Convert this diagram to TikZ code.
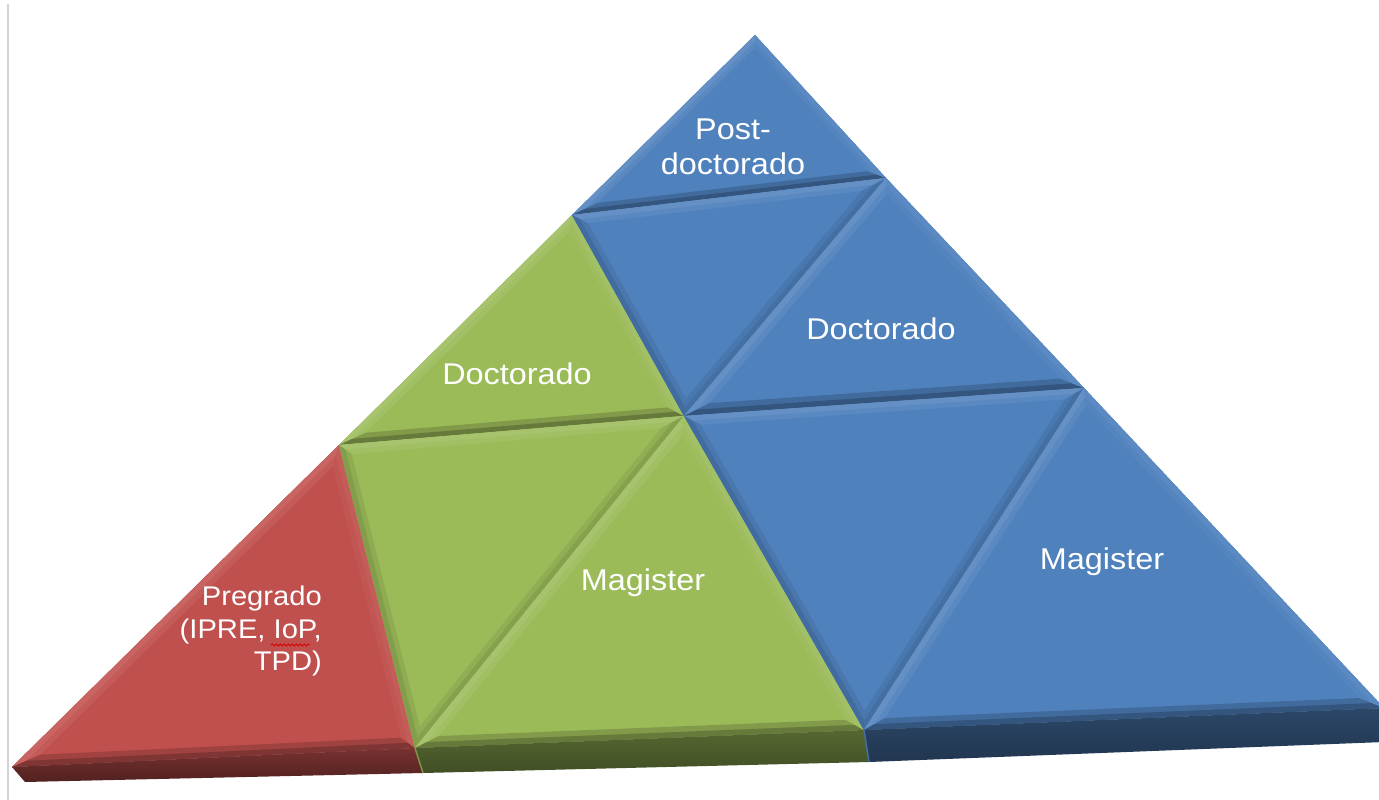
\documentclass[tikz,border=0pt]{standalone}
\usepackage{fontspec}
\setmainfont{Liberation Sans}
\newfontfamily\labfont[FakeStretch=1.08]{Liberation Sans}
\usetikzlibrary{calc,decorations.pathmorphing}
\definecolor{cred}{HTML}{C0504D}
\definecolor{cgreen}{HTML}{9BBB59}
\definecolor{cblue}{HTML}{4F81BD}
% bevelled triangle: #1 #2 #3 vertices, #4 face colour, #5 #6 #7 edge shades (12,23,31), #8 bevel width
\newcommand{\bevtri}[8]{%
  \path let \p1=(#1),\p2=(#2),\p3=(#3),
    \n1={veclen(\x2-\x3,\y2-\y3)},
    \n2={veclen(\x3-\x1,\y3-\y1)},
    \n3={veclen(\x1-\x2,\y1-\y2)},
    \n4={\n1+\n2+\n3},
    \n5={abs(((\x2-\x1)/100)*((\y3-\y1)/100)-((\x3-\x1)/100)*((\y2-\y1)/100))*(10000/\n4)},
    \n6={scalar((\n5-#8)/\n5)},
    \n7={scalar((\n5-#8/2)/\n5)},
    \n8={scalar(\n1/\n4)}, \n9={scalar(\n2/\n4)}, \n{10}={scalar(\n3/\n4)}
    in coordinate (inc) at ($\n8*(#1)+\n9*(#2)+\n{10}*(#3)$)
    coordinate (i1) at ($(inc)!\n6!(#1)$)
    coordinate (i2) at ($(inc)!\n6!(#2)$)
    coordinate (i3) at ($(inc)!\n6!(#3)$)
    coordinate (j1) at ($(inc)!\n7!(#1)$)
    coordinate (j2) at ($(inc)!\n7!(#2)$)
    coordinate (j3) at ($(inc)!\n7!(#3)$);
  \fill[#4] (#1)--(#2)--(#3)--cycle;
  \fill[#5!50!#4] (#1)--(#2)--(i2)--(i1)--cycle;
  \fill[#6!50!#4] (#2)--(#3)--(i3)--(i2)--cycle;
  \fill[#7!50!#4] (#3)--(#1)--(i1)--(i3)--cycle;
  \fill[#5] (#1)--(#2)--(j2)--(j1)--cycle;
  \fill[#6] (#2)--(#3)--(j3)--(j2)--cycle;
  \fill[#7] (#3)--(#1)--(j1)--(j3)--cycle;
}
\newcommand{\uptri}[5]{\bevtri{#1}{#2}{#3}{#4}{#4!88!white}{#4!66!black}{#4!93!white}{#5}}
\newcommand{\dntri}[5]{\bevtri{#1}{#2}{#3}{#4}{#4!88!white}{#4!86!black}{#4!84!black}{#5}}
\begin{document}
\begin{tikzpicture}[x=1pt,y=1pt,
  lab/.style={text=white, font=\labfont\fontsize{30}{35}\selectfont, inner sep=0pt}]
\useasboundingbox (0,0) rectangle (1379,-800);
\fill[white] (0,0) rectangle (1379,-800);
\clip (0,0) rectangle (1379,-800);
% vertices
\coordinate (A)  at (755,-35);
\coordinate (L1) at (572,-215);
\coordinate (R1) at (886,-178);
\coordinate (L2) at (339,-445);
\coordinate (M2) at (684,-416);
\coordinate (R2) at (1084,-388);
\coordinate (B0) at (12,-767);
\coordinate (B1) at (415,-748);
\coordinate (B2) at (864,-730);
\coordinate (B3) at (1384,-708);
\coordinate (B0b) at (25,-782);
\coordinate (B1b) at (423,-773);
\coordinate (B2b) at (869,-762);
\coordinate (B3b) at (1384,-742);
% left margin rule
\draw[black!17, line width=2pt] (8,-4) -- (8,-800);
% faces
\uptri{A}{L1}{R1}{cblue}{9}
\uptri{L1}{L2}{M2}{cgreen}{10}
\dntri{L1}{R1}{M2}{cblue}{10}
\uptri{R1}{M2}{R2}{cblue}{11}
\uptri{L2}{B0}{B1}{cred}{11}
\dntri{L2}{M2}{B1}{cgreen}{10}
\uptri{M2}{B1}{B2}{cgreen}{11}
\dntri{M2}{R2}{B2}{cblue}{10}
\uptri{R2}{B2}{B3}{cblue}{11}
% front slab
\shade[top color=cred!62!black, bottom color=cred!42!black] (B0)--(B1)--(B1b)--(B0b)--cycle;
\shade[top color=cgreen!55!black, bottom color=cgreen!42!black] (B1)--(B2)--(B2b)--(B1b)--cycle;
\shade[top color=cblue!55!black, bottom color=cblue!42!black] (B2)--(B3)--(B3b)--(B2b)--cycle;
\draw[cgreen!80!black, line width=1.5pt] (B1)--(B1b);
\draw[cblue!85!black, line width=1.5pt] (B2)--(B2b);
% labels
\node[lab, align=center] (post) at (733,-147) {Post-\\doctorado};
\node[lab, anchor=base] (docg) at (517,-384) {Doctorado};
\node[lab, anchor=base] (docb) at (881,-339) {Doctorado};
\node[lab, anchor=base] (magg) at (643,-590) {Magister};
\node[lab, anchor=base] (magb) at (1102,-569) {Magister};
\node[lab, font=\labfont\fontsize{27}{32.5}\selectfont, align=right, anchor=north east] (pre) at (322,-586) {Pregrado\\(IPRE, IoP,\\TPD)};
\coordinate (sq1) at (271,-645);
\coordinate (sq2) at (310,-645);
\draw[red!85!black, line width=0.8pt, decorate, decoration={snake, amplitude=1.1pt, segment length=4pt}] (sq1) -- (sq2);
\end{tikzpicture}
\end{document}
